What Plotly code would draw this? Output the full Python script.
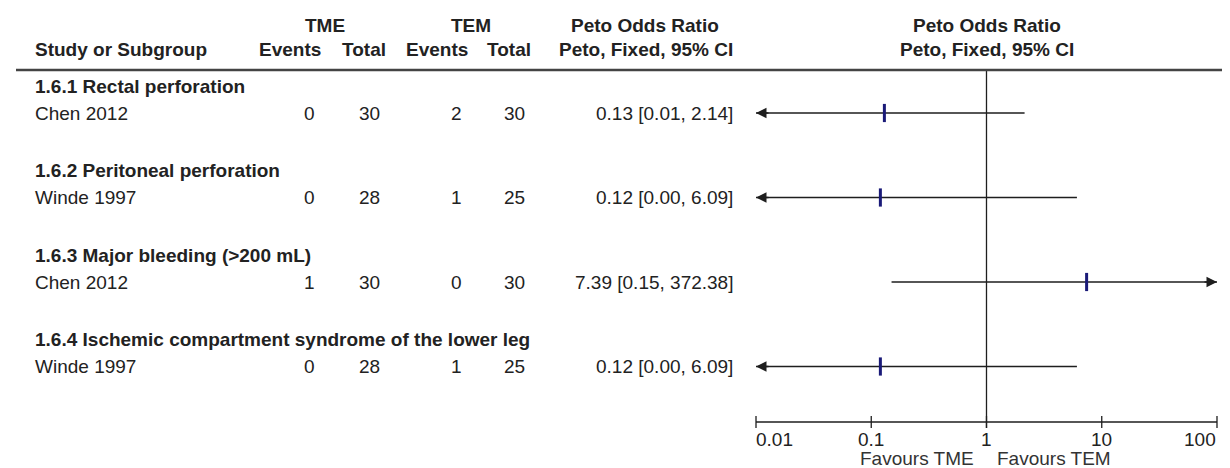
import math
import plotly.graph_objects as go

# ---------------- data ----------------
subgroups = ["1.6.1 Rectal perforation",
             "1.6.2 Peritoneal perforation",
             "1.6.3 Major bleeding (>200 mL)",
             "1.6.4 Ischemic compartment syndrome of the lower leg"]
studies = ["Chen 2012", "Winde 1997", "Chen 2012", "Winde 1997"]
tme_events = [0, 0, 1, 0]
tme_total = [30, 28, 30, 28]
tem_events = [2, 1, 0, 1]
tem_total = [30, 25, 30, 25]
peto_or = [0.13, 0.12, 7.39, 0.12]
ci_low = [0.01, 0.00, 0.15, 0.00]
ci_high = [2.14, 6.09, 372.38, 6.09]
tick_vals = [0.01, 0.1, 1, 10, 100]
tick_text = ["0.01", "0.1", "1", "10", "100"]
null_value = 1
favours_left = "Favours TME"
favours_right = "Favours TEM"

# ---------------- layout constants (pixels) ----------------
W, H = 1230, 468
FONT = "Liberation Sans, Arial, sans-serif"
FS = 19
TXT = "#222222"
X_LEFT, X_RIGHT = 748, 1209          # pixel position of axis ends
PAD = 0.06                            # decades of padding outside axis
DEC = (X_RIGHT - X_LEFT) / (math.log10(tick_vals[-1]) - math.log10(tick_vals[0]))

Y_HDR1, Y_HDR2, Y_RULE = 17, 41, 62
Y_SUB0, Y_STUDY0, ROW_STEP = 78, 105, 84.5
Y_AXIS, Y_TICKLBL, Y_FAV = 414, 431, 450

COL_STUDY = 25
COL_TME_EV, COL_TME_TOT = 315, 380
COL_TEM_EV, COL_TEM_TOT = 462, 525
COL_PETO = 727
W_EVENTS = 62
NUM_PAD = 6

fig = go.Figure()

lo_lim, hi_lim = tick_vals[0], tick_vals[-1]

def px(x):
    return x / W

annotations = []

def text(x, y, s, anchor="left", bold=False, size=FS, color=TXT):
    annotations.append(dict(
        x=px(x), y=y, xref="paper", yref="y", text=(f"<b>{s}</b>" if bold else s),
        showarrow=False, xanchor=anchor, yanchor="middle",
        font=dict(family=FONT, size=size, color=color)))

# header
text((COL_TME_EV - W_EVENTS + COL_TME_TOT) / 2, Y_HDR1, "TME", "center", True)
text((COL_TEM_EV - W_EVENTS + COL_TEM_TOT) / 2, Y_HDR1, "TEM", "center", True)
text(COL_PETO - 90, Y_HDR1, "Peto Odds Ratio", "center", True)
text((X_LEFT + X_RIGHT) / 2, Y_HDR1, "Peto Odds Ratio", "center", True)
text(COL_STUDY, Y_HDR2, "Study or Subgroup", "left", True)
text(COL_TME_EV, Y_HDR2, "Events", "right", True)
text(COL_TME_TOT, Y_HDR2, "Total", "right", True)
text(COL_TEM_EV, Y_HDR2, "Events", "right", True)
text(COL_TEM_TOT, Y_HDR2, "Total", "right", True)
text(COL_PETO, Y_HDR2, "Peto, Fixed, 95% CI", "right", True)
text((X_LEFT + X_RIGHT) / 2, Y_HDR2, "Peto, Fixed, 95% CI", "center", True)

row_y = []
for i in range(len(studies)):
    ys = Y_SUB0 + i * ROW_STEP
    yr = Y_STUDY0 + i * ROW_STEP
    row_y.append(yr)
    text(COL_STUDY, ys, subgroups[i], "left", True)
    text(COL_STUDY, yr, studies[i], "left")
    text(COL_TME_EV - NUM_PAD, yr, str(tme_events[i]), "right")
    text(COL_TME_TOT - NUM_PAD, yr, str(tme_total[i]), "right")
    text(COL_TEM_EV - NUM_PAD, yr, str(tem_events[i]), "right")
    text(COL_TEM_TOT - NUM_PAD, yr, str(tem_total[i]), "right")
    text(COL_PETO, yr, f"{peto_or[i]:.2f} [{ci_low[i]:.2f}, {ci_high[i]:.2f}]", "right")

LINE_C = "#1e1e1e"
# confidence interval lines + arrows
for i in range(len(studies)):
    lo = max(ci_low[i], lo_lim)
    hi = min(ci_high[i], hi_lim)
    fig.add_trace(go.Scatter(x=[lo, hi], y=[row_y[i], row_y[i]], mode="lines",
                             line=dict(color=LINE_C, width=1.5),
                             hoverinfo="skip", showlegend=False))
    if ci_low[i] <= lo_lim:
        annotations.append(dict(x=math.log10(lo_lim), y=row_y[i], xref="x", yref="y",
                                ax=14, ay=0, showarrow=True, arrowhead=2, arrowsize=1.4,
                                arrowwidth=1.5, arrowcolor=LINE_C, text=""))
    if ci_high[i] >= hi_lim:
        annotations.append(dict(x=math.log10(hi_lim), y=row_y[i], xref="x", yref="y",
                                ax=-14, ay=0, showarrow=True, arrowhead=2, arrowsize=1.4,
                                arrowwidth=1.5, arrowcolor=LINE_C, text=""))

# point estimates
fig.add_trace(go.Scatter(x=peto_or, y=row_y, mode="markers",
                         marker=dict(symbol="line-ns", size=13,
                                     line=dict(color="#1a1a78", width=3)),
                         hoverinfo="skip", showlegend=False))

# line of no effect
fig.add_trace(go.Scatter(x=[null_value, null_value], y=[Y_RULE, Y_AXIS + 6], mode="lines",
                         line=dict(color=LINE_C, width=1.3),
                         hoverinfo="skip", showlegend=False))
# axis line
fig.add_trace(go.Scatter(x=[lo_lim, hi_lim], y=[Y_AXIS, Y_AXIS], mode="lines",
                         line=dict(color=LINE_C, width=1.3),
                         hoverinfo="skip", showlegend=False))
# ticks
for v in tick_vals:
    fig.add_trace(go.Scatter(x=[v, v], y=[Y_AXIS - 6, Y_AXIS + 6], mode="lines",
                             line=dict(color=LINE_C, width=1.3),
                             hoverinfo="skip", showlegend=False))
for j, (v, t) in enumerate(zip(tick_vals, tick_text)):
    anc = "left" if j == 0 else ("right" if j == len(tick_vals) - 1 else "center")
    xoff = -2 if j == 0 else (1 if j == len(tick_vals) - 1 else 0)
    annotations.append(dict(x=math.log10(v), y=Y_TICKLBL, xref="x", yref="y", text=t,
                            showarrow=False, xanchor=anc, yanchor="middle", xshift=xoff,
                            font=dict(family=FONT, size=FS, color=TXT)))

annotations.append(dict(x=math.log10(null_value), y=Y_FAV, xref="x", yref="y", text=favours_left,
                        showarrow=False, xanchor="right", yanchor="middle", xshift=-10,
                        font=dict(family=FONT, size=FS, color="#333333")))
annotations.append(dict(x=math.log10(null_value), y=Y_FAV, xref="x", yref="y", text=favours_right,
                        showarrow=False, xanchor="left", yanchor="middle", xshift=9,
                        font=dict(family=FONT, size=FS, color="#333333")))

shapes = [dict(type="line", xref="paper", yref="y", x0=px(8), x1=1, y0=Y_RULE, y1=Y_RULE,
               line=dict(color="#444444", width=2.5))]

fig.update_layout(
    width=W, height=H, margin=dict(l=0, r=0, t=0, b=0),
    paper_bgcolor="white", plot_bgcolor="white",
    xaxis=dict(type="log",
               range=[math.log10(lo_lim) - PAD, math.log10(hi_lim) + PAD],
               domain=[(X_LEFT - PAD * DEC) / W, (X_RIGHT + PAD * DEC) / W],
               visible=False, fixedrange=True),
    yaxis=dict(range=[H, 0], domain=[0, 1], visible=False, fixedrange=True),
    annotations=annotations, shapes=shapes, showlegend=False,
)

fig.write_html("out.html")
